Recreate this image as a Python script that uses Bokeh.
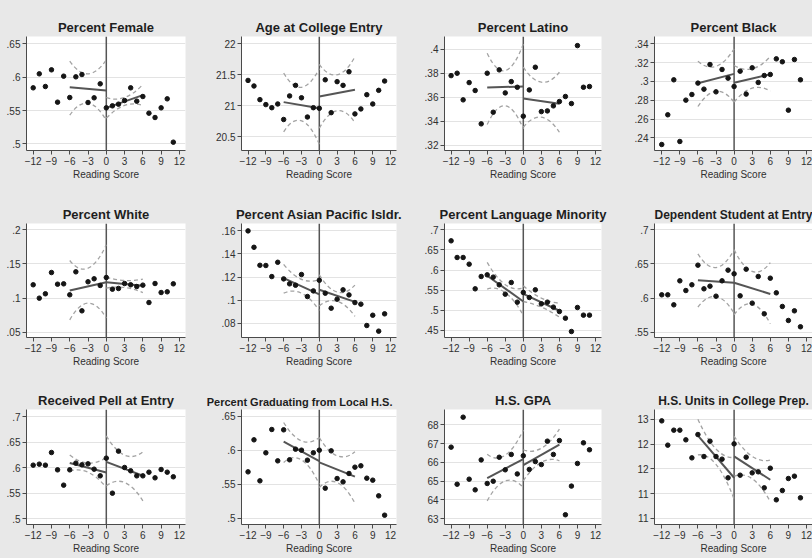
from bokeh.plotting import figure
from bokeh.layouts import gridplot
from bokeh.models import Span, FixedTicker, Range1d
from bokeh.embed import file_html
from bokeh.resources import INLINE

# ---------------- data ----------------
reading_score = list(range(-12, 12))
x_ticks = [-12, -9, -6, -3, 0, 3, 6, 9, 12]
fit_x_left = [-6, 0]
fit_x_right = [0, 6]
ci_x_left = [-6, -3, 0]
ci_x_right = [0, 3, 6]

titles = ["Percent Female", "Age at College Entry", "Percent Latino", "Percent Black",
          "Percent White", "Percent Asian Pacific Isldr.", "Percent Language Minority",
          "Dependent Student at Entry", "Received Pell at Entry",
          "Percent Graduating from Local H.S.", "H.S. GPA", "H.S. Units in College Prep."]

female = [.584, .605, .586, .611, .5625, .6015, .5695, .6005, .604, .562, .569, .59,
          .554, .557, .5595, .565, .584, .564, .571, .546, .5395, .554, .5675, .5025]
female_fit = [.585, .580, .554, .573]
female_ci_hi = [.624, .605, .626, .5695, .5695, .589]
female_ci_lo = [.543, .561, .535, .5385, .5575, .5575]
female_ticks = [0.5, 0.55, 0.6, 0.65]
female_labels = [".5", ".55", ".6", ".65"]

age = [21.41, 21.32, 21.10, 21.02, 20.97, 21.03, 20.78, 21.16, 21.33, 21.13, 20.82, 20.97,
       20.96, 21.42, 20.89, 21.39, 21.33, 21.55, 20.87, 20.95, 21.18, 21.03, 21.25, 21.40]
age_fit = [21.06, 20.96, 21.15, 21.26]
age_ci_hi = [21.53, 21.30, 21.60, 21.67, 21.50, 21.79]
age_ci_lo = [20.58, 20.76, 20.38, 20.64, 20.92, 20.73]
age_ticks = [20.5, 21, 21.5, 22]
age_labels = ["20.5", "21", "21.5", "22"]

latino = [.378, .380, .3578, .3722, .3656, .3378, .380, .3475, .3828, .3636, .373, .3683,
          .3442, .3661, .385, .348, .3486, .3528, .3564, .3606, .3547, .403, .3683, .3689]
latino_fit = [.368, .369, .359, .3545]
latino_ci_hi = [.3967, .3822, .4044, .385, .3725, .3808]
latino_ci_lo = [.3372, .3528, .3336, .335, .3433, .3308]
latino_ticks = [0.32, 0.34, 0.36, 0.38, 0.4]
latino_labels = [".32", ".34", ".36", ".38", ".4"]

black = [.2329, .2645, .3017, .2361, .2801, .2861, .2982, .2918, .318, .2889, .3127, .3035,
         .2946, .3109, .2865, .3145, .2989, .3063, .3074, .324, .3209, .2694, .3233, .3017]
black_fit = [.298, .308, .2985, .3075]
black_ci_hi = [.3216, .316, .3347, .317, .3134, .3265]
black_ci_lo = [.2733, .2895, .2779, .278, .2928, .2896]
black_ticks = [0.24, 0.26, 0.28, 0.3, 0.32, 0.34]
black_labels = [".24", ".26", ".28", ".3", ".32", ".34"]

white = [.1194, .0998, .1062, .1374, .1203, .1208, .1047, .1384, .0812, .1238, .1282, .1184,
         .1301, .113, .114, .1213, .1194, .1169, .1189, .0934, .1213, .1081, .1091, .1208]
white_fit = [.111, .123, .123, .118]
white_ci_hi = [.155, .1438, .178, .1306, .1257, .1277]
white_ci_lo = [.068, .0925, .0705, .1145, .1155, .108]
white_ticks = [0.05, 0.1, 0.15, 0.2]
white_labels = [".05", ".1", ".15", ".2"]

asian = [.160, .1458, .1302, .1300, .1204, .1328, .1184, .1141, .1129, .1222, .1031, .108,
         .1172, .106, .093, .1008, .1089, .1045, .0979, .0965, .078, .0869, .0731, .0881]
asian_fit = [.119, .105, .109, .0985]
asian_ci_hi = [.131, .118, .118, .122, .107, .113]
asian_ci_lo = [.106, .106, .091, .095, .099, .086]
asian_ticks = [0.08, 0.1, 0.12, 0.14, 0.16]
asian_labels = [".08", ".1", ".12", ".14", ".16"]

language = [.6727, .6313, .6313, .6147, .5535, .5841, .5882, .5825, .5634, .5402, .5692, .5204,
            .5444, .532, .551, .5162, .5204, .508, .4972, .4806, .4475, .5071, .4881, .4881]
language_fit = [.586, .522, .541, .499]
language_ci_hi = [.619, .564, .556, .561, .5303, .5179]
language_ci_lo = [.553, .544, .488, .522, .508, .4831]
language_ticks = [0.45, 0.5, 0.55, 0.6, 0.65, 0.7]
language_labels = [".45", ".5", ".55", ".6", ".65", ".7"]

dependent = [.6047, .6047, .59, .6252, .611, .6194, .6482, .6135, .6174, .6027, .6252, .6409,
             .6355, .6032, .6423, .5925, .6316, .5768, .6291, .6076, .5876, .5671, .5812, .5578]
dependent_fit = [.626, .6225, .6225, .606]
dependent_ci_hi = [.6648, .6448, .6707, .671, .639, .652]
dependent_ci_lo = [.5866, .6022, .5778, .5754, .591, .5622]
dependent_ticks = [0.55, 0.6, 0.65, 0.7]
dependent_labels = [".55", ".6", ".65", ".7"]

pell = [.6049, .6069, .6049, .6298, .5957, .5656, .5957, .6089, .6056, .6075, .597, .5839,
        .6187, .5498, .6325, .6003, .5938, .5839, .5839, .5911, .58, .5964, .5911, .582]
pell_fit = [.609, .5905, .6115, .584]
pell_ci_hi = [.625, .609, .62, .6626, .6246, .6311]
pell_ci_lo = [.593, .591, .561, .5643, .5708, .5348]
pell_ticks = [0.5, 0.55, 0.6, 0.65, 0.7]
pell_labels = [".5", ".55", ".6", ".65", ".7"]

local = [.5681, .6152, .5549, .5961, .6304, .5843, .6299, .5858, .6015, .6, .5853, .5961,
         .6, .5441, .599, .5583, .5534, .5657, .575, .577, .5588, .5559, .5328, .5044]
local_fit = [.6125, .584, .582, .561]
local_ci_hi = [.6407, .6137, .6186, .6186, .5917, .5975]
local_ci_lo = [.5819, .5858, .55, .5451, .5525, .522]
local_ticks = [0.5, 0.55, 0.6, 0.65]
local_labels = [".5", ".55", ".6", ".65"]

gpa = [66.81, 64.83, 68.41, 65.10, 64.53, 66.13, 64.87, 64.99, 66.27, 65.60, 66.42, 65.38,
       66.35, 65.62, 66.04, 65.88, 67.13, 66.42, 67.16, 63.20, 64.73, 65.94, 67.04, 66.67]
gpa_fit = [65.15, 66.17, 65.85, 66.95]
gpa_ci_hi = [66.43, 66.38, 67.73, 66.67, 66.75, 67.77]
gpa_ci_lo = [63.94, 65.01, 64.65, 65.01, 66.0, 66.08]
gpa_ticks = [63, 64, 65, 66, 67, 68]
gpa_labels = ["63", "64", "65", "66", "67", "68"]

units = [12.966, 12.477, 12.779, 12.779, 12.584, 12.221, 12.691, 12.248, 12.557, 12.248, 12.195, 11.819,
         12.503, 11.872, 12.235, 11.919, 11.940, 11.617, 12.013, 11.376, 11.564, 11.805, 11.852, 11.416]
units_fit = [12.67, 11.82, 12.25, 11.78]
units_ci_hi = [13.0, 12.40, 12.23, 12.66, 12.25, 12.18]
units_ci_lo = [12.28, 12.09, 11.39, 11.85, 11.80, 11.34]
units_ticks = [11, 11.5, 12, 12.5, 13]
units_labels = ["11", "11", "12", "12", "13"]

series = [
    (female, female_fit, female_ci_hi, female_ci_lo, female_ticks, female_labels),
    (age, age_fit, age_ci_hi, age_ci_lo, age_ticks, age_labels),
    (latino, latino_fit, latino_ci_hi, latino_ci_lo, latino_ticks, latino_labels),
    (black, black_fit, black_ci_hi, black_ci_lo, black_ticks, black_labels),
    (white, white_fit, white_ci_hi, white_ci_lo, white_ticks, white_labels),
    (asian, asian_fit, asian_ci_hi, asian_ci_lo, asian_ticks, asian_labels),
    (language, language_fit, language_ci_hi, language_ci_lo, language_ticks, language_labels),
    (dependent, dependent_fit, dependent_ci_hi, dependent_ci_lo, dependent_ticks, dependent_labels),
    (pell, pell_fit, pell_ci_hi, pell_ci_lo, pell_ticks, pell_labels),
    (local, local_fit, local_ci_hi, local_ci_lo, local_ticks, local_labels),
    (gpa, gpa_fit, gpa_ci_hi, gpa_ci_lo, gpa_ticks, gpa_labels),
    (units, units_fit, units_ci_hi, units_ci_lo, units_ticks, units_labels),
]

# ---------------- layout (not data) ----------------
y_ranges = [(0.49, 0.661), (20.28, 22.118), (0.3156, 0.4106), (0.2265, 0.3478),
            (0.0421, 0.2093), (0.0676, 0.1664), (0.4326, 0.7157), (0.5421, 0.7093),
            (0.4882, 0.7144), (0.4907, 0.6598), (62.68, 68.82), (10.879, 13.195)]
border_left = [26, 38, 38, 45, 26, 32, 37, 43, 26, 26, 36, 42]
border_right = [18, 10, 8, 0, 18, 10, 6, 0, 18, 10, 8, 0]
border_top = [36, 37, 37]
border_bottom = [36, 35, 34]
title_size = ["13px"] * 12
title_size[7] = "12px"
title_size[9] = "11px"
title_size[11] = "12px"
title_align = ["center"] * 12
title_align[9] = "right"
title_offset = [0] * 12
title_offset[9] = 4

BG = "#e8e8e8"
AX = "#4a4a4a"
FONT = "Liberation Sans"


def ctrl(a, m, b):
    # control point of the quadratic curve passing through a, m, b
    return 2 * m - (a + b) / 2


plots = []
for i, (title, (ys, fit, hi, lo, ticks, labels)) in enumerate(zip(titles, series)):
    r, c = divmod(i, 4)
    x_start = -13.2 if c == 3 else -13.1
    p = figure(width=203, height=186, output_backend="svg", toolbar_location=None,
               x_range=Range1d(x_start, 13.0), y_range=Range1d(*y_ranges[i]),
               min_border_left=border_left[i], min_border_right=border_right[i],
               min_border_top=border_top[r], min_border_bottom=border_bottom[r],
               background_fill_color="white", border_fill_color=BG,
               outline_line_color=None)
    p.styles = {"background-color": BG}
    p.title.text = title
    p.title.align = title_align[i]
    p.title.offset = title_offset[i]
    p.title.text_font = FONT
    p.title.text_font_size = title_size[i]
    p.title.text_font_style = "bold"
    p.title.text_color = "#1e1e1e"
    p.title.standoff = 3

    p.xgrid.grid_line_color = None
    p.ygrid.grid_line_color = "#e3e3e3"
    p.ygrid.grid_line_width = 1.2

    p.xaxis.ticker = FixedTicker(ticks=x_ticks)
    p.yaxis.ticker = FixedTicker(ticks=ticks)
    p.yaxis.major_label_overrides = {t: l for t, l in zip(ticks, labels)}
    for ax in (p.xaxis[0], p.yaxis[0]):
        ax.axis_line_color = AX
        ax.major_tick_line_color = AX
        ax.minor_tick_line_color = None
        ax.major_tick_out = 4
        ax.major_tick_in = 0
        ax.major_label_text_color = "#303030"
        ax.major_label_text_font = FONT
        ax.major_label_text_font_size = "10px"
        ax.major_label_standoff = 2
    p.xaxis.axis_label = "Reading Score"
    p.xaxis.axis_label_text_font = FONT
    p.xaxis.axis_label_text_font_size = "10px"
    p.xaxis.axis_label_text_font_style = "normal"
    p.xaxis.axis_label_text_color = "#303030"
    p.xaxis.axis_label_standoff = 1

    # confidence bands (dashed curves)
    x0s, y0s, x1s, y1s, cxs, cys = [], [], [], [], [], []
    for bx, band in ((ci_x_left, hi[0:3]), (ci_x_left, lo[0:3]),
                     (ci_x_right, hi[3:6]), (ci_x_right, lo[3:6])):
        x0s.append(bx[0]); y0s.append(band[0])
        x1s.append(bx[2]); y1s.append(band[2])
        cxs.append(ctrl(bx[0], bx[1], bx[2]))
        cys.append(ctrl(band[0], band[1], band[2]))
    p.quadratic(x0=x0s, y0=y0s, x1=x1s, y1=y1s, cx=cxs, cy=cys,
                line_color="#a3a3a3", line_width=1.3, line_dash="4 3")

    # fitted lines
    p.line(fit_x_left, fit[0:2], line_color="#555555", line_width=2)
    p.line(fit_x_right, fit[2:4], line_color="#555555", line_width=2)

    # cutoff
    p.add_layout(Span(location=0, dimension="height", line_color="#555555",
                      line_width=1.5, level="underlay"))

    # binned means
    p.scatter(reading_score, ys, size=4.5, color="#151515")

    plots.append(p)

grid = gridplot([plots[0:4], plots[4:8], plots[8:12]], toolbar_location=None)
grid.styles = {"background-color": BG}

with open("out.html", "w") as f:
    f.write(file_html(grid, INLINE, title="Reading score discontinuity"))
